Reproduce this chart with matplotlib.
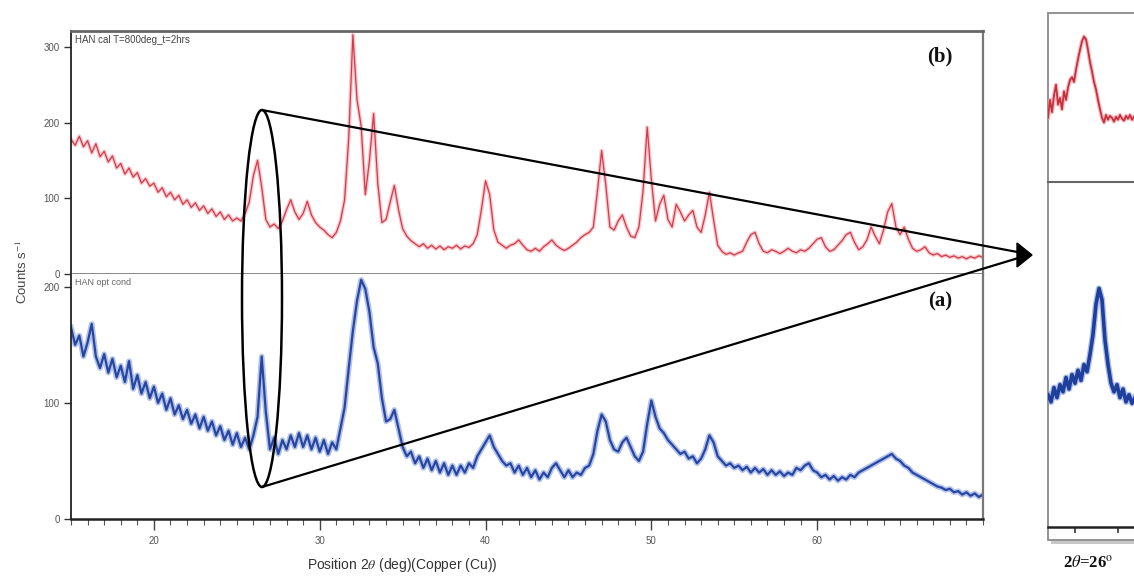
import numpy as np
import matplotlib
matplotlib.use("Agg")
import matplotlib.pyplot as plt
from matplotlib.patches import Ellipse, Polygon, Rectangle
from matplotlib.ticker import MultipleLocator

plt.rcParams['font.family'] = ['Liberation Sans', 'DejaVu Sans']
plt.rcParams['mathtext.fontset'] = 'stix'

# ---------------- data ----------------
two_theta = np.arange(15.0, 70.001, 0.25)   # grid of 2-theta positions (deg)

# (b) HAN cal T=800deg_t=2hrs  (upper panel, counts/s)
counts_b = [
    178, 170, 182, 168, 176, 160, 172, 155, 162, 148, 156, 140, 146, 132, 140, 128, 134, 120, 126, 116,
    120, 108, 114, 102, 108, 98, 104, 92, 98, 88, 94, 84, 90, 80, 86, 76, 82, 72, 78, 70,
    74, 70, 80, 95, 130, 150, 115, 72, 62, 66, 60, 70, 85, 98, 82, 72, 80, 96, 78, 68,
    62, 58, 52, 48, 55, 70, 98, 180, 316, 230, 195, 105, 150, 212, 120, 68, 72, 95, 117, 85,
    60, 50, 44, 40, 36, 40, 34, 38, 33, 37, 32, 36, 34, 38, 33, 37, 35, 40, 52, 85,
    123, 105, 58, 42, 38, 34, 38, 40, 45, 38, 32, 30, 34, 30, 36, 40, 45, 38, 34, 31,
    34, 38, 42, 48, 52, 55, 62, 110, 163, 118, 62, 58, 70, 78, 62, 50, 48, 62, 110, 194,
    125, 70, 92, 104, 72, 62, 92, 82, 70, 78, 84, 62, 55, 78, 108, 72, 38, 30, 26, 28,
    25, 28, 30, 42, 52, 55, 40, 30, 28, 32, 30, 27, 30, 34, 30, 28, 32, 30, 34, 40,
    46, 48, 36, 30, 32, 38, 44, 52, 55, 42, 32, 36, 45, 62, 50, 40, 58, 82, 93, 62,
    52, 62, 46, 34, 30, 32, 36, 28, 25, 27, 23, 25, 22, 24, 21, 23, 20, 23, 21, 24,
    22]

# (a) HAN opt cond  (lower panel, counts/s)
counts_a = [
    165, 150, 158, 140, 152, 168, 140, 130, 142, 126, 138, 122, 132, 118, 136, 112, 124, 108, 118, 104,
    114, 100, 108, 94, 104, 90, 98, 86, 94, 82, 90, 78, 88, 76, 84, 72, 80, 68, 76, 64,
    74, 62, 70, 60, 72, 88, 140, 92, 60, 70, 56, 68, 60, 72, 62, 74, 62, 72, 60, 70,
    58, 68, 56, 66, 60, 78, 96, 130, 162, 188, 206, 198, 178, 148, 134, 104, 84, 86, 94, 78,
    62, 54, 58, 48, 54, 44, 52, 42, 50, 40, 48, 38, 46, 38, 46, 40, 48, 44, 54, 60,
    66, 72, 62, 56, 50, 46, 48, 40, 46, 38, 44, 36, 42, 34, 40, 36, 44, 48, 42, 36,
    42, 36, 40, 38, 44, 46, 56, 76, 90, 84, 68, 60, 58, 66, 70, 62, 54, 50, 58, 82,
    102, 88, 78, 74, 68, 64, 60, 56, 58, 52, 54, 48, 52, 60, 72, 66, 54, 50, 46, 48,
    44, 46, 42, 45, 40, 44, 40, 43, 38, 42, 38, 41, 37, 40, 38, 44, 42, 46, 48, 42,
    40, 36, 38, 34, 37, 33, 36, 34, 38, 36, 40, 42, 44, 46, 48, 50, 52, 54, 56, 52,
    50, 46, 44, 40, 38, 36, 34, 32, 30, 28, 27, 25, 26, 23, 24, 21, 23, 20, 22, 19,
    21]

# magnified view around 2theta = 26 deg (inset)
inset_x_b = np.round(25.33 + 0.05 * np.arange(44), 3)
inset_b = [64, 83, 70, 88, 99, 78, 85, 73, 92, 83, 96, 104, 107, 102, 115, 126, 136, 145, 150, 147,
           136, 123, 113, 102, 94, 83, 73, 64, 59, 67, 62, 66, 64, 60, 65, 62, 67, 63, 61, 66,
           63, 67, 62, 65]
inset_x_a = np.round(25.33 + 0.075 * np.arange(30), 3)
inset_a = [67, 62, 72, 65, 74, 69, 79, 71, 81, 75, 84, 77, 88, 83, 95, 109, 130, 141, 133, 105,
           88, 75, 69, 74, 65, 71, 62, 67, 61, 65]

x_major = [20, 30, 40, 50, 60]
yticks_b = [0, 100, 200, 300]
yticks_a = [0, 100, 200]

# ---------------- figure ----------------
W, H = 1134, 578
fig = plt.figure(figsize=(W / 100, H / 100), dpi=100)


def rect(l, t, r, b):
    return [l / W, 1 - b / H, (r - l) / W, (b - t) / H]


# background overlay (inset box + shadow)
bg = fig.add_axes([0, 0, 1, 1], zorder=0)
bg.set_xlim(0, W)
bg.set_ylim(H, 0)
bg.axis('off')
bg.add_patch(Rectangle((1051, 16), 120, 528, facecolor='#c8c8c8', edgecolor='none'))
bg.add_patch(Rectangle((1048, 13), 120, 527, facecolor='white', edgecolor='#8a8a8a', lw=1.3))

axT = fig.add_axes(rect(71, 31, 983, 274), zorder=2)
axB = fig.add_axes(rect(71, 274, 983, 519), zorder=2, sharex=axT)

tick_col = '#555555'
for ax in (axT, axB):
    ax.set_xlim(15, 70)
    ax.spines['left'].set_color('#222222')
    ax.spines['left'].set_linewidth(1.3)
    ax.spines['right'].set_color('#777777')
    ax.spines['right'].set_linewidth(1.6)
    ax.tick_params(axis='y', direction='out', length=5, width=1, colors='#333333',
                   labelsize=7, labelcolor=tick_col, pad=3)

axT.spines['top'].set_color('#666666')
axT.spines['top'].set_linewidth(2.0)
axT.spines['bottom'].set_color('#888888')
axT.spines['bottom'].set_linewidth(1.4)
axT.tick_params(axis='x', which='both', bottom=False, labelbottom=False)
axT.set_ylim(0, 321)
axT.set_yticks(yticks_b)

axB.spines['top'].set_visible(False)
axB.spines['bottom'].set_color('#222222')
axB.spines['bottom'].set_linewidth(1.8)
axB.set_ylim(0, 211)
axB.set_yticks(yticks_a)
axB.set_xticks(x_major)
axB.xaxis.set_minor_locator(MultipleLocator(1))
axB.tick_params(axis='x', which='major', direction='out', length=8, width=1,
                colors='#444444', labelsize=7, labelcolor=tick_col, pad=4)
axB.tick_params(axis='x', which='minor', direction='out', length=4, width=0.8, colors='#555555')

# curves
axT.plot(two_theta, counts_b, color='#f6b9bf', lw=2.8, alpha=0.8, solid_joinstyle='round')
axT.plot(two_theta, counts_b, color='#d23a4a', lw=0.9)
axB.plot(two_theta, counts_a, color='#9fb2e4', lw=4.0, alpha=0.8, solid_joinstyle='round')
axB.plot(two_theta, counts_a, color='#2746a2', lw=1.6)

axT.text(0.004, 0.985, 'HAN cal T=800deg_t=2hrs', transform=axT.transAxes,
         ha='left', va='top', fontsize=7, color='#444444')
axB.text(0.004, 0.985, 'HAN opt cond', transform=axB.transAxes,
         ha='left', va='top', fontsize=6.5, color='#666666')

# inset axes
insT = fig.add_axes(rect(1048, 13, 1168, 182), zorder=2)
insB = fig.add_axes(rect(1048, 182, 1168, 527), zorder=2)
x_lo = 25.33
x_hi = x_lo + 120 / 40.0
for ax in (insT, insB):
    ax.set_facecolor('none')
    ax.set_xlim(x_lo, x_hi)
    for s in ax.spines.values():
        s.set_visible(False)
    ax.set_yticks([])
insT.set_xticks([])
insT.spines['bottom'].set_visible(True)
insT.spines['bottom'].set_color('#666666')
insT.spines['bottom'].set_linewidth(1.5)
insT.set_ylim(-4, 175)
insB.set_ylim(-25, 215)
insB.spines['bottom'].set_visible(True)
insB.spines['bottom'].set_color('#222222')
insB.spines['bottom'].set_linewidth(1.8)
insB.set_xticks([26.0, 27.08])
insB.tick_params(axis='x', direction='out', length=4, width=1.2, colors='#333333',
                 labelbottom=False)

insT.plot(inset_x_b, inset_b, color='#f0a0a8', lw=3.0, alpha=0.7)
insT.plot(inset_x_b, inset_b, color='#c8303c', lw=1.3)
insB.plot(inset_x_a, inset_a, color='#8ea4dc', lw=4.5, alpha=0.7)
insB.plot(inset_x_a, inset_a, color='#1f3f9c', lw=2.6)

# foreground overlay: ellipse, funnel lines, arrow, labels
fg = fig.add_axes([0, 0, 1, 1], zorder=5)
fg.set_xlim(0, W)
fg.set_ylim(H, 0)
fg.axis('off')
fg.patch.set_alpha(0)
fg.add_patch(Ellipse((262, 298.5), 40, 377, fill=False, edgecolor='black', lw=1.8))
fg.plot([262, 1020], [110, 252.5], color='black', lw=1.6, solid_capstyle='round')
fg.plot([262, 1020], [487, 257.5], color='black', lw=1.6, solid_capstyle='round')
fg.add_patch(Polygon([(1017, 243), (1032, 255), (1017, 267)], closed=True,
                     facecolor='black', edgecolor='black'))

serif = ['Liberation Serif', 'DejaVu Serif']
fg.text(940, 56, '(b)', ha='center', va='center', fontsize=15, fontweight='bold',
        family=serif, color='#111111')
fg.text(940, 301, '(a)', ha='center', va='center', fontsize=15, fontweight='bold',
        family=serif, color='#111111')
fg.text(1088, 563, r'2$\theta$=26$^{\rm o}$', ha='center', va='center', fontsize=12,
        fontweight='bold', family=serif, color='#111111')

fig.text(22 / W, 1 - 272 / H, r'Counts s$^{-1}$', rotation=90, ha='center', va='center',
         fontsize=9.5, color='#444444')
fig.text(402 / W, 1 - 565 / H, r'Position 2$\theta$ (deg)(Copper (Cu))', ha='center',
         va='center', fontsize=10, color='#333333')

fig.savefig('out.png', dpi=100, facecolor='white')
